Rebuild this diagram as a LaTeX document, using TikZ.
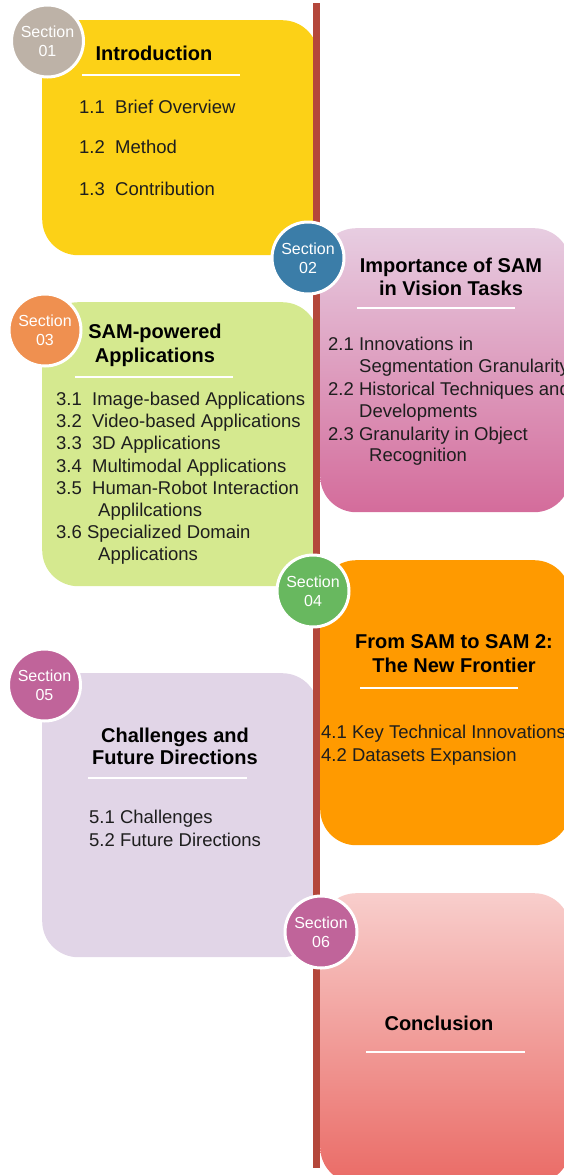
\documentclass[tikz,border=0pt]{standalone}
\usepackage{fontspec}
\setmainfont{Liberation Sans}
\definecolor{yel}{HTML}{FCD117}
\definecolor{c01}{HTML}{BDB2A7}
\definecolor{pinkT}{HTML}{E7CDE1}
\definecolor{pinkB}{HTML}{D46C9B}
\definecolor{c02}{HTML}{3B7DA8}
\definecolor{grn}{HTML}{D5E98F}
\definecolor{c03}{HTML}{EF9050}
\definecolor{org}{HTML}{FF9A00}
\definecolor{c04}{HTML}{68B85F}
\definecolor{lav}{HTML}{E1D5E7}
\definecolor{c05}{HTML}{C0649A}
\definecolor{redT}{HTML}{F8CECC}
\definecolor{redB}{HTML}{EA6B66}
\definecolor{linec}{HTML}{B4473B}
\definecolor{txt}{HTML}{1E1E1E}
\begin{document}
\begin{tikzpicture}[x=1pt,y=-1pt,
  panel/.style={rectangle, rounded corners=36pt, draw=none, inner sep=0, anchor=north west},
  secc/.style={circle, draw=white, line width=3pt, minimum size=72pt, inner sep=0, text=white,
    font=\fontsize{16}{19}\selectfont, align=center},
  ttl/.style={font=\fontsize{20}{23}\bfseries\selectfont, anchor=base, inner sep=0, text=black},
  itm/.style={font=\fontsize{18.5}{22}\selectfont, anchor=base west, inner sep=0, text=txt},
  uline/.style={white, line width=2.5pt}]
\useasboundingbox (0,0) rectangle (564,1175);
\clip (0,0) rectangle (564,1175);
% panels
\node[panel, fill=yel, minimum width=276pt, minimum height=235pt] (b1) at (42,20) {};
\node[panel, top color=pinkT, bottom color=pinkB, minimum width=250pt, minimum height=284pt] (b2) at (320,228) {};
\node[panel, fill=grn, minimum width=276pt, minimum height=284pt] (b3) at (42,302) {};
\node[panel, fill=org, minimum width=250pt, minimum height=285pt] (b4) at (320,560) {};
\node[panel, fill=lav, minimum width=276pt, minimum height=284pt] (b5) at (42,673) {};
\node[panel, top color=redT, bottom color=redB, minimum width=250pt, minimum height=290pt] (b6) at (320,893) {};
% timeline
\coordinate (ltop) at (316.5,3);
\coordinate (lbot) at (316.5,1168);
\draw[linec, line width=6.5pt] (ltop) -- (lbot);
% section circles
\node[secc, fill=c01] (s1) at (47.5,41) {Section\\01};
\node[secc, fill=c02] (s2) at (308,258) {Section\\02};
\node[secc, fill=c03] (s3) at (45,330) {Section\\03};
\node[secc, fill=c04] (s4) at (313,591) {Section\\04};
\node[secc, fill=c05] (s5) at (44.5,685) {Section\\05};
\node[secc, fill=c05] (s6) at (321,932) {Section\\06};
% section 1
\node[ttl] (t1) at (154,60) {Introduction};
\draw[uline] (82,75) -- (240,75);
\node[itm] (i11) at (79,113) {1.1\ \ Brief Overview};
\node[itm] (i12) at (79,153) {1.2\ \ Method};
\node[itm] (i13) at (79,195) {1.3\ \ Contribution};
% section 2
\node[ttl] (t2a) at (451,272) {Importance of SAM};
\node[ttl] (t2b) at (451,295) {in Vision Tasks};
\draw[uline] (357,308) -- (515,308);
\node[itm] (i21) at (328,350) {2.1 Innovations in};
\node[itm] (i21b) at (359,372) {Segmentation Granularity};
\node[itm] (i22) at (328,395) {2.2 Historical Techniques and};
\node[itm] (i22b) at (359,417) {Developments};
\node[itm] (i23) at (328,440) {2.3 Granularity in Object};
\node[itm] (i23b) at (369,461) {Recognition};
% section 3
\node[ttl] (t3a) at (155,338) {SAM-powered};
\node[ttl] (t3b) at (155,362) {Applications};
\draw[uline] (75,377) -- (233,377);
\node[itm] (i31) at (56,405) {3.1\ \ Image-based Applications};
\node[itm] (i32) at (56,427) {3.2\ \ Video-based Applications};
\node[itm] (i33) at (56,449) {3.3\ \ 3D Applications};
\node[itm] (i34) at (56,472) {3.4\ \ Multimodal Applications};
\node[itm] (i35) at (56,494) {3.5\ \ Human-Robot Interaction};
\node[itm] (i35b) at (98,516) {Applilcations};
\node[itm] (i36) at (56,538) {3.6 Specialized Domain};
\node[itm] (i36b) at (98,560) {Applications};
% section 4
\node[ttl] (t4a) at (454,648) {From SAM to SAM 2:};
\node[ttl] (t4b) at (454,672) {The New Frontier};
\draw[uline] (360,688) -- (518,688);
\node[itm] (i41) at (321,738) {4.1 Key Technical Innovations};
\node[itm] (i42) at (321,761) {4.2 Datasets Expansion};
% section 5
\node[ttl] (t5a) at (175,742) {Challenges and};
\node[ttl] (t5b) at (175,764) {Future Directions};
\draw[uline] (88,778) -- (247,778);
\node[itm] (i51) at (89,823) {5.1 Challenges};
\node[itm] (i52) at (89,846) {5.2 Future Directions};
% section 6
\node[ttl] (t6) at (439,1030) {Conclusion};
\draw[uline] (366,1052) -- (525,1052);
\end{tikzpicture}
\end{document}
